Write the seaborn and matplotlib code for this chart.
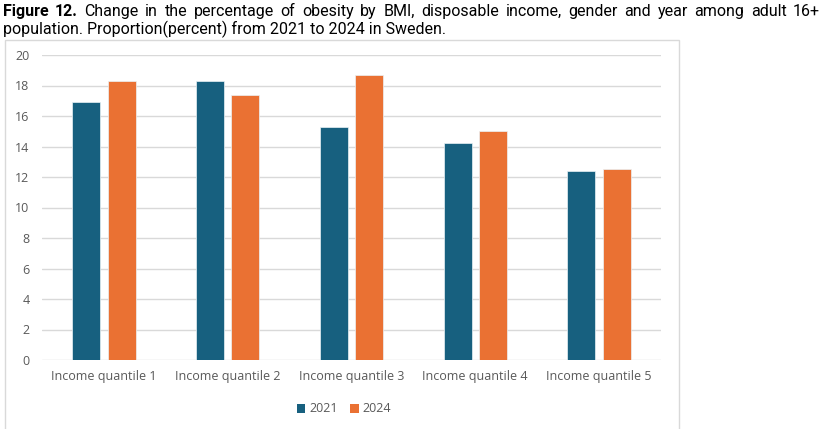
import matplotlib
matplotlib.use("Agg")
import matplotlib.pyplot as plt
import seaborn as sns
import pandas as pd
from matplotlib.patches import Rectangle, Patch

# ---- data ----
categories = ["Income quantile 1", "Income quantile 2", "Income quantile 3",
              "Income quantile 4", "Income quantile 5"]
years = ["2021", "2024"]
values_2021 = [16.9, 18.3, 15.3, 14.2, 12.4]
values_2024 = [18.3, 17.4, 18.7, 15.0, 12.5]
y_ticks = [0, 2, 4, 6, 8, 10, 12, 14, 16, 18, 20]
title_bold = "Figure 12."
title_line1 = "Change in the percentage of obesity by BMI, disposable income, gender and year among adult 16+"
title_line2 = "population. Proportion(percent) from 2021 to 2024 in Sweden."

colors = {"2021": "#17607F", "2024": "#EA7133"}

df = pd.DataFrame({
    "category": categories * 2,
    "year": [years[0]] * len(categories) + [years[1]] * len(categories),
    "value": values_2021 + values_2024,
})

sns.set_theme(style="white")
plt.rcParams["font.family"] = ["Open Sans", "DejaVu Sans"]

W, H = 825, 429
fig = plt.figure(figsize=(W / 100, H / 100), dpi=100)

# chart frame
fig.patches.append(Rectangle((5 / W, -0.02), (679 - 5) / W, (429 - 40) / H + 0.02,
                             transform=fig.transFigure, fill=False,
                             edgecolor="#D9D9D9", lw=1.0))

ax = fig.add_axes([42 / W, 1 - 360 / H, (661 - 42) / W, (360 - 55) / H])
sns.barplot(data=df, x="category", y="value", hue="year", palette=colors,
            saturation=1, width=0.57, gap=0.207, edgecolor="#EAF2F6",
            linewidth=0.5, ax=ax, legend=False)
ax.set_ylim(0, 20)
ax.set_xlim(-0.5, len(categories) - 0.5)
ax.set_yticks(y_ticks)
ax.yaxis.grid(True, color="#D9D9D9", lw=1.0)
ax.set_axisbelow(True)
for s in ax.spines.values():
    s.set_visible(False)
ax.set_xlabel("")
ax.set_ylabel("")
ax.tick_params(axis="y", length=0, pad=9, labelsize=9, labelcolor="#595959")
ax.tick_params(axis="x", length=0, pad=7, labelsize=9, labelcolor="#595959")

handles = [Patch(facecolor=colors[y], edgecolor="none") for y in years]
fig.legend(handles, years, loc="center", bbox_to_anchor=(344 / W, 1 - 409 / H),
           ncol=2, frameon=False, handlelength=0.7, handleheight=0.7,
           handletextpad=0.3, columnspacing=1.0, fontsize=9,
           labelcolor="#595959")

# ---- title (line 1 justified) ----
tfam = ["Roboto", "DejaVu Sans"]
tsize = 11.5
fig.canvas.draw()
renderer = fig.canvas.get_renderer()
words = [(w, "bold") for w in title_bold.split()] + [(w, "normal") for w in title_line1.split()]
texts = []
for w, wt in words:
    t = fig.text(0, 1 - 16 / H, w, fontsize=tsize, fontweight=wt, family=tfam,
                 color="black", ha="left", va="baseline")
    texts.append(t)
widths = [t.get_window_extent(renderer).width for t in texts]
x0, x1 = 3, 820
gapw = (x1 - x0 - sum(widths)) / (len(texts) - 1)
x = x0
for t, wd in zip(texts, widths):
    t.set_x(x / W)
    x += wd + gapw
fig.text(3 / W, 1 - 34 / H, title_line2, fontsize=tsize, family=tfam,
         color="black", ha="left", va="baseline")

fig.savefig("out.png", dpi=100)
